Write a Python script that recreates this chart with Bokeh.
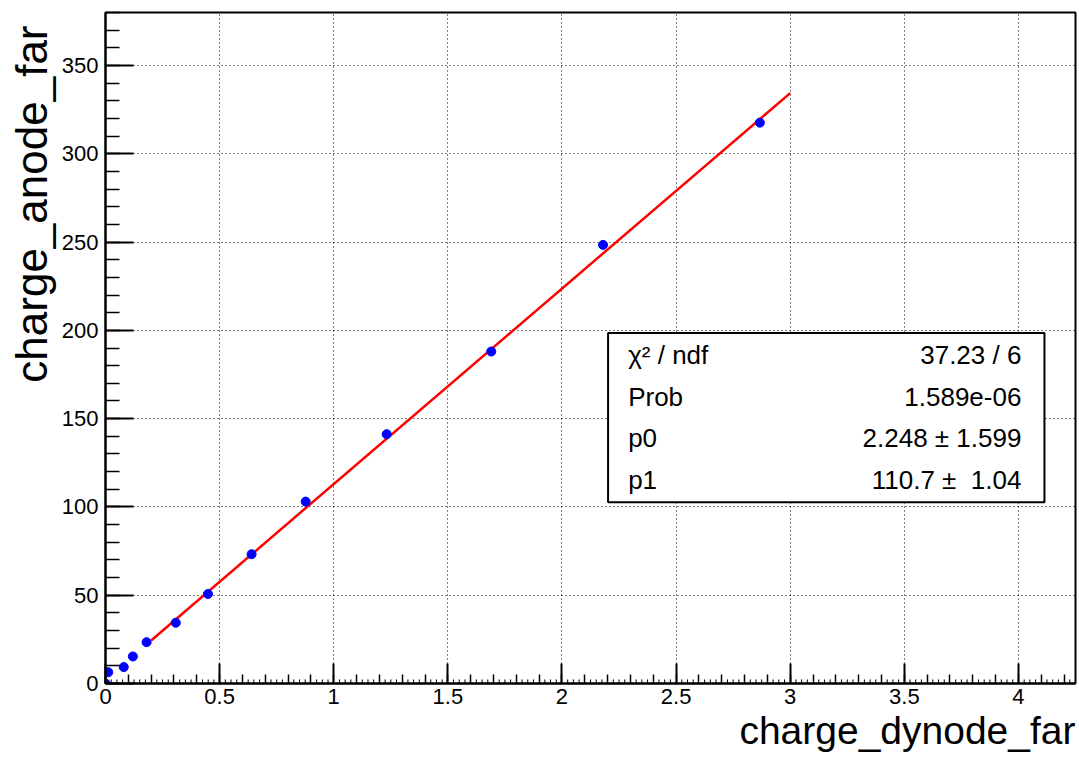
import numpy as np
from bokeh.plotting import figure
from bokeh.models import (Range1d, FixedTicker, Label, BoxAnnotation, ColumnDataSource, Title)
from bokeh.embed import file_html
from bokeh.resources import INLINE

# Measured charges (dynode vs anode, far side)
charge_dynode = [0.0, 0.012, 0.08, 0.12, 0.18, 0.308, 0.449, 0.64, 0.877, 1.232, 1.69, 2.18, 2.867]
charge_anode = [0.0, 6.4, 9.3, 15.3, 23.4, 34.4, 50.7, 73.2, 103.0, 141.2, 188.0, 248.4, 317.6]

# Linear fit pol1: p0 + p1*x, fitted over [0.2, 3.0]
fit_range = [0.2, 3.0]
p0, p0_err = 2.248, 1.599
p1, p1_err = 110.7, 1.04
chi2, ndf = 37.23, 6
prob = "1.589e-06"

stat_names = ["\u03c7\u00b2 / ndf", "Prob", "p0", "p1"]
stat_values = [f"{chi2:.2f} / {ndf}", prob,
               f"{p0:.3f} \u00b1 {p0_err:.3f}", f"{p1:.1f} \u00b1\u00a0 {p1_err:.2f}"]

x_ticks = [0, 0.5, 1, 1.5, 2, 2.5, 3, 3.5, 4]
y_ticks = [0, 50, 100, 150, 200, 250, 300, 350]

FONT = "Liberation Sans"

p = figure(width=1079, height=757, output_backend="svg", toolbar_location=None,
           x_range=Range1d(0, 4.25), y_range=Range1d(0, 380),
           min_border_left=105, min_border_right=4, min_border_top=12, min_border_bottom=74)
p.background_fill_color = "white"
p.border_fill_color = "white"
p.outline_line_color = "black"
p.outline_line_width = 2

# axes, ROOT style: ticks pointing into the frame
xa = p.xaxis[0]
xa.ticker = FixedTicker(ticks=x_ticks, minor_ticks=list(np.round(np.arange(0, 4.25, 0.1), 3)))
xa.major_tick_in = 20
xa.major_tick_out = 0
xa.minor_tick_in = 9
xa.minor_tick_out = 0
xa.major_label_standoff = 5
ya = p.yaxis[0]
ya.ticker = FixedTicker(ticks=y_ticks, minor_ticks=list(range(0, 381, 10)))
ya.major_tick_in = 28
ya.major_tick_out = 0
ya.minor_tick_in = 14
ya.minor_tick_out = 0
ya.major_label_standoff = 7
for ax in (xa, ya):
    ax.axis_line_color = "black"
    ax.axis_line_width = 2
    ax.major_tick_line_color = "black"
    ax.major_tick_line_width = 2
    ax.minor_tick_line_color = "black"
    ax.minor_tick_line_width = 1.5
    ax.major_label_text_font = FONT
    ax.major_label_text_font_size = "22px"
    ax.major_label_text_color = "black"

p.xgrid.grid_line_color = "black"
p.xgrid.grid_line_dash = "1 3"
p.xgrid.grid_line_width = 1
p.ygrid.grid_line_color = "black"
p.ygrid.grid_line_dash = "1 3"
p.ygrid.grid_line_width = 1

# finest x ticks every 0.025
fine = np.round(np.arange(0, 4.25, 0.025), 3)
fine = fine[np.abs(fine * 10 - np.round(fine * 10)) > 1e-6]
p.segment(x0=fine, y0=np.zeros_like(fine), x1=fine, y1=np.full_like(fine, 2.3),
          line_color="black", line_width=1)

# fit line
fx = np.array(fit_range)
p.line(fx, p0 + p1 * fx, line_color="#ff0000", line_width=2.5)

# data points
src = ColumnDataSource(dict(x=charge_dynode, y=charge_anode))
p.scatter("x", "y", source=src, size=9, fill_color="#0000ff", line_color="#0000ff")

# fit statistics box
p.add_layout(BoxAnnotation(left=2.202, right=4.114, bottom=102.7, top=198.5,
                           fill_color="white", fill_alpha=1.0,
                           line_color="black", line_width=2, line_alpha=1.0))
row_y = [186.0, 162.2, 139.0, 115.1]
for name, val, yy in zip(stat_names, stat_values, row_y):
    p.add_layout(Label(x=2.29, y=yy, text=name, text_font=FONT, text_font_size="26px",
                       text_baseline="middle", text_align="left", text_color="black"))
    p.add_layout(Label(x=4.013, y=yy, text=val, text_font=FONT, text_font_size="26px",
                       text_baseline="middle", text_align="right", text_color="black"))

# axis titles, aligned to the far end of each axis
p.add_layout(Title(text="charge_dynode_far", align="right", text_font=FONT,
                   text_font_size="39px", text_font_style="normal", text_color="black",
                   standoff=0, offset=0), "below")
p.add_layout(Title(text="charge_anode_far", align="right", text_font=FONT,
                   text_font_size="44px", text_font_style="normal", text_color="black",
                   standoff=5, offset=13), "left")

open("out.html", "w").write(file_html(p, INLINE))
